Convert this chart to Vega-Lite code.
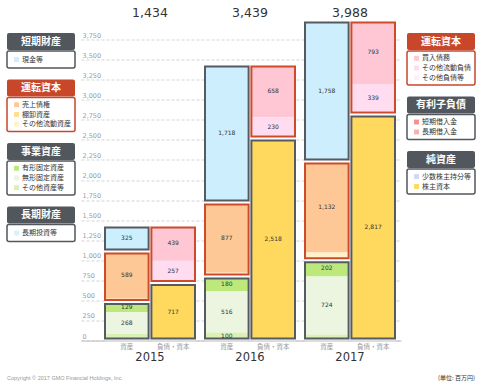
{
  "$schema": "https://vega.github.io/schema/vega-lite/v6.json",
  "padding": {"left": 6, "top": 6.5, "right": 2, "bottom": 2},
  "background": "white",
  "config": {
    "view": {"stroke": null},
    "font": "DejaVu Sans",
    "axisY": {"domain": false, "ticks": false, "labelAlign": "left", "labelPadding": -1, "labelBaseline": "bottom", "labelOffset": -1.5, "labelFontSize": 6.5, "labelColor": "#9a9a9a", "gridDash": [3, 2], "gridColor": "#c8c8c8", "gridWidth": 0.8, "labelOverlap": false, "labelExpr": "format(datum.value, ',')"},
    "axisX": {"labelAngle": 0, "ticks": false, "domainColor": "#bbbbbb", "labelPadding": 11, "labelFontSize": 11.5, "labelColor": "#333333", "labelFont": "DejaVu Sans", "grid": false}
  },
  "datasets": {
    "bs": [
      {"year": "2015", "side": "資産", "group": "短期財産", "item": "現金等", "value": 325},
      {"year": "2015", "side": "資産", "group": "運転資本", "item": "売上債権", "value": 589},
      {"year": "2015", "side": "資産", "group": "運転資本", "item": "その他流動資産", "value": 40},
      {"year": "2015", "side": "資産", "group": "事業資産", "item": "有形固定資産", "value": 129},
      {"year": "2015", "side": "資産", "group": "事業資産", "item": "無形固定資産", "value": 268},
      {"year": "2015", "side": "資産", "group": "事業資産", "item": "その他資産等", "value": 83},
      {"year": "2015", "side": "負債・資本", "group": "運転資本", "item": "買入債務", "value": 439},
      {"year": "2015", "side": "負債・資本", "group": "運転資本", "item": "その他流動負債", "value": 257},
      {"year": "2015", "side": "負債・資本", "group": "運転資本", "item": "その他負債等", "value": 21},
      {"year": "2015", "side": "負債・資本", "group": "純資産", "item": "株主資本", "value": 717},
      {"year": "2016", "side": "資産", "group": "短期財産", "item": "現金等", "value": 1718},
      {"year": "2016", "side": "資産", "group": "運転資本", "item": "売上債権", "value": 877},
      {"year": "2016", "side": "資産", "group": "運転資本", "item": "その他流動資産", "value": 48},
      {"year": "2016", "side": "資産", "group": "事業資産", "item": "有形固定資産", "value": 180},
      {"year": "2016", "side": "資産", "group": "事業資産", "item": "無形固定資産", "value": 516},
      {"year": "2016", "side": "資産", "group": "事業資産", "item": "その他資産等", "value": 100},
      {"year": "2016", "side": "負債・資本", "group": "運転資本", "item": "買入債務", "value": 658},
      {"year": "2016", "side": "負債・資本", "group": "運転資本", "item": "その他流動負債", "value": 230},
      {"year": "2016", "side": "負債・資本", "group": "運転資本", "item": "その他負債等", "value": 33},
      {"year": "2016", "side": "負債・資本", "group": "純資産", "item": "株主資本", "value": 2518},
      {"year": "2017", "side": "資産", "group": "短期財産", "item": "現金等", "value": 1758},
      {"year": "2017", "side": "資産", "group": "運転資本", "item": "売上債権", "value": 1132},
      {"year": "2017", "side": "資産", "group": "運転資本", "item": "その他流動資産", "value": 97},
      {"year": "2017", "side": "資産", "group": "事業資産", "item": "有形固定資産", "value": 202},
      {"year": "2017", "side": "資産", "group": "事業資産", "item": "無形固定資産", "value": 724},
      {"year": "2017", "side": "資産", "group": "事業資産", "item": "その他資産等", "value": 75},
      {"year": "2017", "side": "負債・資本", "group": "運転資本", "item": "買入債務", "value": 793},
      {"year": "2017", "side": "負債・資本", "group": "運転資本", "item": "その他流動負債", "value": 339},
      {"year": "2017", "side": "負債・資本", "group": "運転資本", "item": "その他負債等", "value": 39},
      {"year": "2017", "side": "負債・資本", "group": "純資産", "item": "株主資本", "value": 2817}
    ],
    "legend": [
      {"side": "資産", "group": "短期財産", "item": "現金等"},
      {"side": "資産", "group": "運転資本", "item": "売上債権"},
      {"side": "資産", "group": "運転資本", "item": "棚卸資産"},
      {"side": "資産", "group": "運転資本", "item": "その他流動資産"},
      {"side": "資産", "group": "事業資産", "item": "有形固定資産"},
      {"side": "資産", "group": "事業資産", "item": "無形固定資産"},
      {"side": "資産", "group": "事業資産", "item": "その他資産等"},
      {"side": "資産", "group": "長期財産", "item": "長期投資等"},
      {"side": "負債・資本", "group": "運転資本", "item": "買入債務"},
      {"side": "負債・資本", "group": "運転資本", "item": "その他流動負債"},
      {"side": "負債・資本", "group": "運転資本", "item": "その他負債等"},
      {"side": "負債・資本", "group": "有利子負債", "item": "短期借入金"},
      {"side": "負債・資本", "group": "有利子負債", "item": "長期借入金"},
      {"side": "負債・資本", "group": "純資産", "item": "少数株主持分等"},
      {"side": "負債・資本", "group": "純資産", "item": "株主資本"}
    ],
    "footer": [
      {"kind": "copyright", "text": "Copyright © 2017 GMO Financial Holdings, Inc."},
      {"kind": "unit", "text": "(単位: 百万円)"}
    ]
  },
  "spacing": 10,
  "vconcat": [
    {
      "spacing": 5,
      "hconcat": [
        {
          "spacing": 10.5,
          "vconcat": [
            {"width": 68, "height": 3, "data": {"values": []}, "mark": "rect", "encoding": {}},
            {"spacing": 0, "vconcat": [
              {"width": 68, "height": 17, "view": {"fill": "#52575d", "stroke": null, "cornerRadius": 2}, "data": {"name": "legend"}, "transform": [{"filter": "datum.side === '資産' && datum.group === '短期財産'"}, {"aggregate": [{"op": "count", "as": "n"}], "groupby": ["group"]}], "mark": {"type": "text", "color": "white", "fontSize": 10, "fontWeight": "bold", "font": "Noto Sans CJK JP"}, "encoding": {"text": {"field": "group"}}},
              {"width": 68, "height": 17, "view": {"stroke": "#52575d", "strokeWidth": 1.5, "fill": "white", "cornerRadius": 2}, "data": {"name": "legend"}, "transform": [{"filter": "datum.side === '資産' && datum.group === '短期財産'"}],
               "encoding": {"y": {"field": "item", "type": "nominal", "sort": null, "scale": {"type": "point", "padding": 0.75}, "axis": null}},
               "layer": [
                 {"mark": {"type": "square", "size": 24, "opacity": 1}, "encoding": {"x": {"datum": 0.14, "type": "quantitative", "scale": {"domain": [0, 1]}, "axis": null}, "fill": {"field": "item", "type": "nominal", "legend": null, "scale": {"domain": ["現金等","売上債権","棚卸資産","その他流動資産","有形固定資産","無形固定資産","その他資産等","長期投資等","買入債務","その他流動負債","その他負債等","短期借入金","長期借入金","少数株主持分等","株主資本"], "range": ["#cdeefc","#fec896","#fedf8e","#fff2c8","#bde97c","#ebf5e0","#d9f1b4","#d9f1fb","#ffc6d4","#ffdcef","#ffeef7","#f68f8f","#f9b0b0","#d3d7f7","#fed95e"]}}}},
                 {"mark": {"type": "text", "align": "left", "fontSize": 7, "font": "Noto Sans CJK JP", "color": "#333333"}, "encoding": {"x": {"datum": 0.22, "type": "quantitative"}, "text": {"field": "item"}}}
               ]}
            ]},
            {"spacing": 0, "vconcat": [
              {"width": 68, "height": 17, "view": {"fill": "#c8472b", "stroke": null, "cornerRadius": 2}, "data": {"name": "legend"}, "transform": [{"filter": "datum.side === '資産' && datum.group === '運転資本'"}, {"aggregate": [{"op": "count", "as": "n"}], "groupby": ["group"]}], "mark": {"type": "text", "color": "white", "fontSize": 10, "fontWeight": "bold", "font": "Noto Sans CJK JP"}, "encoding": {"text": {"field": "group"}}},
              {"width": 68, "height": 34, "view": {"stroke": "#c8472b", "strokeWidth": 1.5, "fill": "white", "cornerRadius": 2}, "data": {"name": "legend"}, "transform": [{"filter": "datum.side === '資産' && datum.group === '運転資本'"}],
               "encoding": {"y": {"field": "item", "type": "nominal", "sort": null, "scale": {"type": "point", "padding": 0.75}, "axis": null}},
               "layer": [
                 {"mark": {"type": "square", "size": 24, "opacity": 1}, "encoding": {"x": {"datum": 0.14, "type": "quantitative", "scale": {"domain": [0, 1]}, "axis": null}, "fill": {"field": "item", "type": "nominal", "legend": null, "scale": {"domain": ["現金等","売上債権","棚卸資産","その他流動資産","有形固定資産","無形固定資産","その他資産等","長期投資等","買入債務","その他流動負債","その他負債等","短期借入金","長期借入金","少数株主持分等","株主資本"], "range": ["#cdeefc","#fec896","#fedf8e","#fff2c8","#bde97c","#ebf5e0","#d9f1b4","#d9f1fb","#ffc6d4","#ffdcef","#ffeef7","#f68f8f","#f9b0b0","#d3d7f7","#fed95e"]}}}},
                 {"mark": {"type": "text", "align": "left", "fontSize": 7, "font": "Noto Sans CJK JP", "color": "#333333"}, "encoding": {"x": {"datum": 0.22, "type": "quantitative"}, "text": {"field": "item"}}}
               ]}
            ]},
            {"spacing": 0, "vconcat": [
              {"width": 68, "height": 17, "view": {"fill": "#52575d", "stroke": null, "cornerRadius": 2}, "data": {"name": "legend"}, "transform": [{"filter": "datum.side === '資産' && datum.group === '事業資産'"}, {"aggregate": [{"op": "count", "as": "n"}], "groupby": ["group"]}], "mark": {"type": "text", "color": "white", "fontSize": 10, "fontWeight": "bold", "font": "Noto Sans CJK JP"}, "encoding": {"text": {"field": "group"}}},
              {"width": 68, "height": 34, "view": {"stroke": "#52575d", "strokeWidth": 1.5, "fill": "white", "cornerRadius": 2}, "data": {"name": "legend"}, "transform": [{"filter": "datum.side === '資産' && datum.group === '事業資産'"}],
               "encoding": {"y": {"field": "item", "type": "nominal", "sort": null, "scale": {"type": "point", "padding": 0.75}, "axis": null}},
               "layer": [
                 {"mark": {"type": "square", "size": 24, "opacity": 1}, "encoding": {"x": {"datum": 0.14, "type": "quantitative", "scale": {"domain": [0, 1]}, "axis": null}, "fill": {"field": "item", "type": "nominal", "legend": null, "scale": {"domain": ["現金等","売上債権","棚卸資産","その他流動資産","有形固定資産","無形固定資産","その他資産等","長期投資等","買入債務","その他流動負債","その他負債等","短期借入金","長期借入金","少数株主持分等","株主資本"], "range": ["#cdeefc","#fec896","#fedf8e","#fff2c8","#bde97c","#ebf5e0","#d9f1b4","#d9f1fb","#ffc6d4","#ffdcef","#ffeef7","#f68f8f","#f9b0b0","#d3d7f7","#fed95e"]}}}},
                 {"mark": {"type": "text", "align": "left", "fontSize": 7, "font": "Noto Sans CJK JP", "color": "#333333"}, "encoding": {"x": {"datum": 0.22, "type": "quantitative"}, "text": {"field": "item"}}}
               ]}
            ]},
            {"spacing": 0, "vconcat": [
              {"width": 68, "height": 17, "view": {"fill": "#52575d", "stroke": null, "cornerRadius": 2}, "data": {"name": "legend"}, "transform": [{"filter": "datum.side === '資産' && datum.group === '長期財産'"}, {"aggregate": [{"op": "count", "as": "n"}], "groupby": ["group"]}], "mark": {"type": "text", "color": "white", "fontSize": 10, "fontWeight": "bold", "font": "Noto Sans CJK JP"}, "encoding": {"text": {"field": "group"}}},
              {"width": 68, "height": 17, "view": {"stroke": "#52575d", "strokeWidth": 1.5, "fill": "white", "cornerRadius": 2}, "data": {"name": "legend"}, "transform": [{"filter": "datum.side === '資産' && datum.group === '長期財産'"}],
               "encoding": {"y": {"field": "item", "type": "nominal", "sort": null, "scale": {"type": "point", "padding": 0.75}, "axis": null}},
               "layer": [
                 {"mark": {"type": "square", "size": 24, "opacity": 1}, "encoding": {"x": {"datum": 0.14, "type": "quantitative", "scale": {"domain": [0, 1]}, "axis": null}, "fill": {"field": "item", "type": "nominal", "legend": null, "scale": {"domain": ["現金等","売上債権","棚卸資産","その他流動資産","有形固定資産","無形固定資産","その他資産等","長期投資等","買入債務","その他流動負債","その他負債等","短期借入金","長期借入金","少数株主持分等","株主資本"], "range": ["#cdeefc","#fec896","#fedf8e","#fff2c8","#bde97c","#ebf5e0","#d9f1b4","#d9f1fb","#ffc6d4","#ffdcef","#ffeef7","#f68f8f","#f9b0b0","#d3d7f7","#fed95e"]}}}},
                 {"mark": {"type": "text", "align": "left", "fontSize": 7, "font": "Noto Sans CJK JP", "color": "#333333"}, "encoding": {"x": {"datum": 0.22, "type": "quantitative"}, "text": {"field": "item"}}}
               ]}
            ]}
          ]
        },
        {
          "width": 320,
          "height": 321,
          "data": {"name": "bs"},
          "transform": [
            {"calculate": "indexof(['その他資産等','無形固定資産','有形固定資産','その他流動資産','棚卸資産','売上債権','現金等','株主資本','少数株主持分等','長期借入金','短期借入金','その他負債等','その他流動負債','買入債務'], datum.item)", "as": "ord"},
            {"stack": "value", "groupby": ["year", "side"], "sort": [{"field": "ord", "order": "ascending"}], "as": ["v0", "v1"]}
          ],
          "layer": [
            {
              "mark": {"type": "rect"},
              "encoding": {
                "x": {"field": "year", "type": "nominal", "title": null, "scale": {"paddingInner": 0.1, "paddingOuter": 0.15, "align": 0.8}},
                "xOffset": {"field": "side", "type": "nominal", "sort": ["資産", "負債・資本"], "scale": {"paddingInner": 0.06}},
                "y": {"field": "v0", "type": "quantitative", "title": null, "scale": {"domain": [0, 4000], "nice": false}, "axis": {"values": [0, 250, 500, 750, 1000, 1250, 1500, 1750, 2000, 2250, 2500, 2750, 3000, 3250, 3500, 3750]}},
                "y2": {"field": "v1"},
                "fill": {"field": "item", "type": "nominal", "legend": null, "scale": {"domain": ["現金等","売上債権","棚卸資産","その他流動資産","有形固定資産","無形固定資産","その他資産等","長期投資等","買入債務","その他流動負債","その他負債等","短期借入金","長期借入金","少数株主持分等","株主資本"], "range": ["#cdeefc","#fec896","#fedf8e","#fff2c8","#bde97c","#ebf5e0","#d9f1b4","#d9f1fb","#ffc6d4","#ffdcef","#ffeef7","#f68f8f","#f9b0b0","#d3d7f7","#fed95e"]}}
              }
            },
            {
              "transform": [
                {"aggregate": [{"op": "min", "field": "v0", "as": "g0"}, {"op": "max", "field": "v1", "as": "g1"}], "groupby": ["year", "side", "group"]},
                {"fold": ["g0", "g1"], "as": ["edge", "ev"]}
              ],
              "mark": {"type": "rect", "fillOpacity": 0, "stroke": "white", "strokeWidth": 4},
              "encoding": {
                "x": {"field": "year", "type": "nominal", "title": null},
                "xOffset": {"field": "side", "type": "nominal", "sort": ["資産", "負債・資本"]},
                "y": {"field": "ev", "type": "quantitative", "title": null, "axis": {"values": [0, 250, 500, 750, 1000, 1250, 1500, 1750, 2000, 2250, 2500, 2750, 3000, 3250, 3500, 3750]}},
                "y2": {"field": "ev"}
              }
            },
            {
              "transform": [
                {"aggregate": [{"op": "min", "field": "v0", "as": "g0"}, {"op": "max", "field": "v1", "as": "g1"}], "groupby": ["year", "side", "group"]}
              ],
              "mark": {"type": "rect", "fillOpacity": 0, "strokeWidth": 2, "yOffset": -2, "y2Offset": 2},
              "encoding": {
                "x": {"field": "year", "type": "nominal", "title": null},
                "xOffset": {"field": "side", "type": "nominal", "sort": ["資産", "負債・資本"]},
                "y": {"field": "g0", "type": "quantitative", "title": null, "axis": {"values": [0, 250, 500, 750, 1000, 1250, 1500, 1750, 2000, 2250, 2500, 2750, 3000, 3250, 3500, 3750]}},
                "y2": {"field": "g1"},
                "stroke": {"condition": {"test": "datum.group === '運転資本'", "value": "#cd4a2a"}, "value": "#565b61"}
              }
            },
            {
              "transform": [
                {"filter": "datum.value >= 100"},
                {"calculate": "(datum.v0 + datum.v1) / 2", "as": "mid"}
              ],
              "mark": {"type": "text", "fontSize": 6, "color": "#333333", "font": "DejaVu Sans"},
              "encoding": {
                "x": {"field": "year", "type": "nominal", "title": null},
                "xOffset": {"field": "side", "type": "nominal", "sort": ["資産", "負債・資本"]},
                "y": {"field": "mid", "type": "quantitative", "title": null, "axis": {"values": [0, 250, 500, 750, 1000, 1250, 1500, 1750, 2000, 2250, 2500, 2750, 3000, 3250, 3500, 3750]}},
                "text": {"field": "value", "type": "quantitative", "format": ","}
              }
            },
            {
              "transform": [
                {"aggregate": [{"op": "sum", "field": "value", "as": "t"}], "groupby": ["year", "side"]}
              ],
              "mark": {"type": "text", "fontSize": 6.5, "color": "#999999", "font": "Noto Sans CJK JP", "dy": 6.5},
              "encoding": {
                "x": {"field": "year", "type": "nominal", "title": null},
                "xOffset": {"field": "side", "type": "nominal", "sort": ["資産", "負債・資本"]},
                "y": {"datum": 0, "type": "quantitative", "title": null, "axis": {"values": [0, 250, 500, 750, 1000, 1250, 1500, 1750, 2000, 2250, 2500, 2750, 3000, 3250, 3500, 3750]}},
                "text": {"field": "side"}
              }
            },
            {
              "transform": [
                {"filter": "datum.side === '資産'"},
                {"aggregate": [{"op": "sum", "field": "value", "as": "total"}], "groupby": ["year"]}
              ],
              "mark": {"type": "text", "fontSize": 12.5, "color": "#333333", "font": "DejaVu Sans", "dy": -7},
              "encoding": {
                "x": {"field": "year", "type": "nominal", "title": null},
                "y": {"datum": 4000, "type": "quantitative", "title": null, "axis": {"values": [0, 250, 500, 750, 1000, 1250, 1500, 1750, 2000, 2250, 2500, 2750, 3000, 3250, 3500, 3750]}},
                "text": {"field": "total", "type": "quantitative", "format": ","}
              }
            }
          ]
        },
        {
          "spacing": 10.5,
          "vconcat": [
            {"width": 68, "height": 3, "data": {"values": []}, "mark": "rect", "encoding": {}},
            {"spacing": 0, "vconcat": [
              {"width": 68, "height": 17, "view": {"fill": "#c8472b", "stroke": null, "cornerRadius": 2}, "data": {"name": "legend"}, "transform": [{"filter": "datum.side === '負債・資本' && datum.group === '運転資本'"}, {"aggregate": [{"op": "count", "as": "n"}], "groupby": ["group"]}], "mark": {"type": "text", "color": "white", "fontSize": 10, "fontWeight": "bold", "font": "Noto Sans CJK JP"}, "encoding": {"text": {"field": "group"}}},
              {"width": 68, "height": 34, "view": {"stroke": "#c8472b", "strokeWidth": 1.5, "fill": "white", "cornerRadius": 2}, "data": {"name": "legend"}, "transform": [{"filter": "datum.side === '負債・資本' && datum.group === '運転資本'"}],
               "encoding": {"y": {"field": "item", "type": "nominal", "sort": null, "scale": {"type": "point", "padding": 0.75}, "axis": null}},
               "layer": [
                 {"mark": {"type": "square", "size": 24, "opacity": 1}, "encoding": {"x": {"datum": 0.14, "type": "quantitative", "scale": {"domain": [0, 1]}, "axis": null}, "fill": {"field": "item", "type": "nominal", "legend": null, "scale": {"domain": ["現金等","売上債権","棚卸資産","その他流動資産","有形固定資産","無形固定資産","その他資産等","長期投資等","買入債務","その他流動負債","その他負債等","短期借入金","長期借入金","少数株主持分等","株主資本"], "range": ["#cdeefc","#fec896","#fedf8e","#fff2c8","#bde97c","#ebf5e0","#d9f1b4","#d9f1fb","#ffc6d4","#ffdcef","#ffeef7","#f68f8f","#f9b0b0","#d3d7f7","#fed95e"]}}}},
                 {"mark": {"type": "text", "align": "left", "fontSize": 7, "font": "Noto Sans CJK JP", "color": "#333333"}, "encoding": {"x": {"datum": 0.22, "type": "quantitative"}, "text": {"field": "item"}}}
               ]}
            ]},
            {"spacing": 0, "vconcat": [
              {"width": 68, "height": 17, "view": {"fill": "#52575d", "stroke": null, "cornerRadius": 2}, "data": {"name": "legend"}, "transform": [{"filter": "datum.side === '負債・資本' && datum.group === '有利子負債'"}, {"aggregate": [{"op": "count", "as": "n"}], "groupby": ["group"]}], "mark": {"type": "text", "color": "white", "fontSize": 10, "fontWeight": "bold", "font": "Noto Sans CJK JP"}, "encoding": {"text": {"field": "group"}}},
              {"width": 68, "height": 25, "view": {"stroke": "#52575d", "strokeWidth": 1.5, "fill": "white", "cornerRadius": 2}, "data": {"name": "legend"}, "transform": [{"filter": "datum.side === '負債・資本' && datum.group === '有利子負債'"}],
               "encoding": {"y": {"field": "item", "type": "nominal", "sort": null, "scale": {"type": "point", "padding": 0.75}, "axis": null}},
               "layer": [
                 {"mark": {"type": "square", "size": 24, "opacity": 1}, "encoding": {"x": {"datum": 0.14, "type": "quantitative", "scale": {"domain": [0, 1]}, "axis": null}, "fill": {"field": "item", "type": "nominal", "legend": null, "scale": {"domain": ["現金等","売上債権","棚卸資産","その他流動資産","有形固定資産","無形固定資産","その他資産等","長期投資等","買入債務","その他流動負債","その他負債等","短期借入金","長期借入金","少数株主持分等","株主資本"], "range": ["#cdeefc","#fec896","#fedf8e","#fff2c8","#bde97c","#ebf5e0","#d9f1b4","#d9f1fb","#ffc6d4","#ffdcef","#ffeef7","#f68f8f","#f9b0b0","#d3d7f7","#fed95e"]}}}},
                 {"mark": {"type": "text", "align": "left", "fontSize": 7, "font": "Noto Sans CJK JP", "color": "#333333"}, "encoding": {"x": {"datum": 0.22, "type": "quantitative"}, "text": {"field": "item"}}}
               ]}
            ]},
            {"spacing": 0, "vconcat": [
              {"width": 68, "height": 17, "view": {"fill": "#52575d", "stroke": null, "cornerRadius": 2}, "data": {"name": "legend"}, "transform": [{"filter": "datum.side === '負債・資本' && datum.group === '純資産'"}, {"aggregate": [{"op": "count", "as": "n"}], "groupby": ["group"]}], "mark": {"type": "text", "color": "white", "fontSize": 10, "fontWeight": "bold", "font": "Noto Sans CJK JP"}, "encoding": {"text": {"field": "group"}}},
              {"width": 68, "height": 25, "view": {"stroke": "#52575d", "strokeWidth": 1.5, "fill": "white", "cornerRadius": 2}, "data": {"name": "legend"}, "transform": [{"filter": "datum.side === '負債・資本' && datum.group === '純資産'"}],
               "encoding": {"y": {"field": "item", "type": "nominal", "sort": null, "scale": {"type": "point", "padding": 0.75}, "axis": null}},
               "layer": [
                 {"mark": {"type": "square", "size": 24, "opacity": 1}, "encoding": {"x": {"datum": 0.14, "type": "quantitative", "scale": {"domain": [0, 1]}, "axis": null}, "fill": {"field": "item", "type": "nominal", "legend": null, "scale": {"domain": ["現金等","売上債権","棚卸資産","その他流動資産","有形固定資産","無形固定資産","その他資産等","長期投資等","買入債務","その他流動負債","その他負債等","短期借入金","長期借入金","少数株主持分等","株主資本"], "range": ["#cdeefc","#fec896","#fedf8e","#fff2c8","#bde97c","#ebf5e0","#d9f1b4","#d9f1fb","#ffc6d4","#ffdcef","#ffeef7","#f68f8f","#f9b0b0","#d3d7f7","#fed95e"]}}}},
                 {"mark": {"type": "text", "align": "left", "fontSize": 7, "font": "Noto Sans CJK JP", "color": "#333333"}, "encoding": {"x": {"datum": 0.22, "type": "quantitative"}, "text": {"field": "item"}}}
               ]}
            ]}
          ]
        }
      ]
    },
    {
      "width": 468,
      "height": 8,
      "data": {"name": "footer"},
      "encoding": {
        "x": {"field": "kind", "type": "nominal", "scale": {"type": "point", "domain": ["copyright", "unit"], "padding": 0}, "axis": null},
        "text": {"field": "text"}
      },
      "layer": [
        {"transform": [{"filter": "datum.kind === 'copyright'"}], "mark": {"type": "text", "align": "left", "fontSize": 5.5, "color": "#999999", "font": "Liberation Sans"}},
        {"transform": [{"filter": "datum.kind === 'unit'"}], "mark": {"type": "text", "align": "right", "fontSize": 6, "color": "#333333", "font": "Noto Sans CJK JP"}}
      ]
    }
  ]
}
